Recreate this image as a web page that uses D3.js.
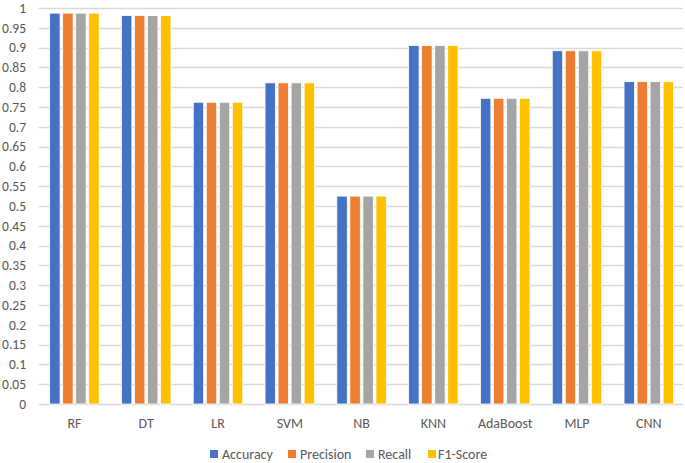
<!DOCTYPE html>
<html>
<head>
<meta charset="utf-8">
<script src="https://cdn.jsdelivr.net/npm/d3@7"></script>
<style>
  body { margin: 0; background: #fff; }
  text { font-family: Carlito, Lato, "Liberation Sans", sans-serif; fill: #595959; }
</style>
</head>
<body>
<svg id="chart" width="685" height="463"></svg>
<script>
// data
const models = ["RF", "DT", "LR", "SVM", "NB", "KNN", "AdaBoost", "MLP", "CNN"];
const metrics = ["Accuracy", "Precision", "Recall", "F1-Score"];
const accuracy  = [0.987, 0.981, 0.762, 0.811, 0.525, 0.905, 0.772, 0.892, 0.814];
const precision = [0.987, 0.981, 0.762, 0.811, 0.525, 0.905, 0.772, 0.892, 0.814];
const recall    = [0.987, 0.981, 0.762, 0.811, 0.525, 0.905, 0.772, 0.892, 0.814];
const f1score   = [0.987, 0.981, 0.762, 0.811, 0.525, 0.905, 0.772, 0.892, 0.814];
const yTicks = d3.range(0, 1.0001, 0.05);
const colors = ["#4472C4", "#ED7D31", "#A5A5A5", "#FFC000"];

const series = [accuracy, precision, recall, f1score];
const svg = d3.select("#chart");
const width = 685, height = 463;
const margin = { top: 8, bottom: 59, left: 38.5 };
const step = 71.8;

const x0 = d3.scaleBand()
  .domain(models)
  .range([margin.left, margin.left + step * models.length])
  .paddingInner(0.274)
  .paddingOuter(0.137);

const x1 = d3.scaleBand()
  .domain(metrics)
  .range([0, x0.bandwidth()])
  .padding(0.2)
  .paddingOuter(0.1);

const y = d3.scaleLinear()
  .domain([0, 1])
  .range([height - margin.bottom, margin.top]);

// gridlines
svg.append("g")
  .selectAll("line")
  .data(yTicks)
  .join("line")
  .attr("x1", margin.left)
  .attr("x2", 683)
  .attr("y1", d => Math.round(y(d)) + 0.5)
  .attr("y2", d => Math.round(y(d)) + 0.5)
  .attr("stroke", "#d9d9d9")
  .attr("stroke-width", 1.3);

// y labels
svg.append("g")
  .selectAll("text")
  .data(yTicks)
  .join("text")
  .attr("x", 26)
  .attr("y", d => y(d))
  .attr("dy", "0.35em")
  .attr("text-anchor", "end")
  .style("font-size", "13.5px")
  .text(d => d3.format("~g")(+d.toFixed(2)));

// bars
const group = svg.append("g")
  .selectAll("g")
  .data(models)
  .join("g")
  .attr("transform", d => `translate(${x0(d)},0)`);

group.selectAll("rect")
  .data((m, i) => metrics.map((k, j) => ({ key: k, value: series[j][i], j })))
  .join("rect")
  .attr("x", d => x1(d.key))
  .attr("y", d => y(d.value))
  .attr("width", x1.bandwidth())
  .attr("height", d => y(0) - y(d.value))
  .attr("fill", d => colors[d.j])
  .attr("stroke", "#fff")
  .attr("stroke-width", 0.8);

// category labels
svg.append("g")
  .selectAll("text")
  .data(models)
  .join("text")
  .attr("x", d => x0(d) + x0.bandwidth() / 2)
  .attr("y", 428)
  .attr("text-anchor", "middle")
  .style("font-size", "14px")
  .text(d => d);

// legend
const legendX = [210, 288, 366, 428];
const legend = svg.append("g")
  .selectAll("g")
  .data(metrics)
  .join("g")
  .attr("transform", (d, i) => `translate(${legendX[i]},454)`);

legend.append("rect")
  .attr("x", 0)
  .attr("y", -4)
  .attr("width", 8)
  .attr("height", 8)
  .attr("fill", (d, i) => colors[i]);

legend.append("text")
  .attr("x", (d, i) => i === 3 ? 10 : 12)
  .attr("y", 0)
  .attr("dy", "0.35em")
  .style("font-size", "14px")
  .text(d => d);
</script>
</body>
</html>
